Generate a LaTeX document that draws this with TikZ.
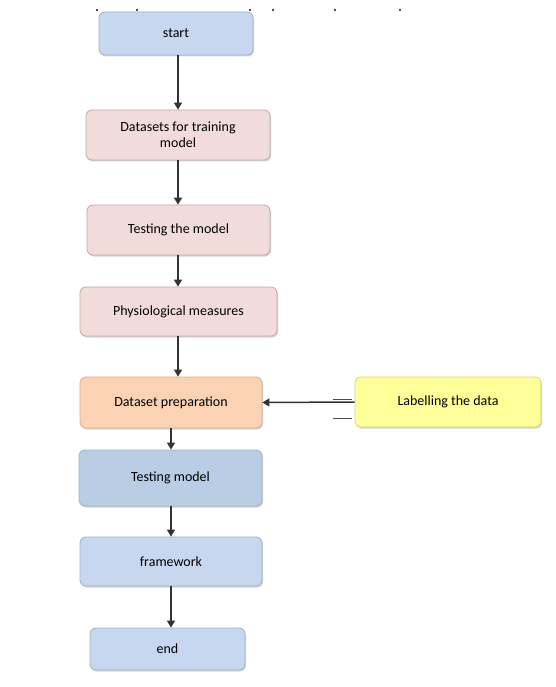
\documentclass[tikz,border=0pt]{standalone}
\usepackage{fontspec}
\setmainfont{Carlito}
\usetikzlibrary{arrows.meta,shadows}
\definecolor{cblue}{HTML}{C6D7EF}
\definecolor{cpink}{HTML}{F2DCDB}
\definecolor{cpeach}{HTML}{FBD3B4}
\definecolor{cyellow}{HTML}{FFFF99}
\definecolor{cblue2}{HTML}{B9CDE5}
\definecolor{bblue}{HTML}{9DB2CF}
\definecolor{bpink}{HTML}{C9A5A5}
\definecolor{bpeach}{HTML}{D8AE8C}
\definecolor{byellow}{HTML}{D6D67A}
\tikzset{
  box/.style={draw, line width=0.8pt, rounded corners=6pt, align=center,
    font=\fontsize{14}{16}\selectfont, inner sep=0pt,
    drop shadow={shadow xshift=1pt, shadow yshift=-1.5pt, opacity=0.35}},
  arr/.style={draw=black!80, line width=1.5pt, -{Triangle[length=7pt,width=8pt]}},
  tick/.style={draw=black!70, line width=0.6pt}
}
\begin{document}
\begin{tikzpicture}[x=1pt,y=-1pt]
\useasboundingbox (0,0) rectangle (555,687);
\node[box, fill=cblue, draw=bblue, minimum width=154pt, minimum height=43pt] (start) at (176,33.5) {start};
\node[box, fill=cpink, draw=bpink, minimum width=184pt, minimum height=50pt] (ds) at (178,135) {Datasets for training\\model};
\node[box, fill=cpink, draw=bpink, minimum width=183pt, minimum height=50pt] (tm) at (178.5,230) {Testing the model};
\node[box, fill=cpink, draw=bpink, minimum width=197pt, minimum height=49pt] (pm) at (178.5,311.5) {Physiological measures};
\node[box, fill=cpeach, draw=bpeach, minimum width=182pt, minimum height=51pt] (dp) at (171,402.5) {Dataset preparation};
\node[box, fill=cyellow, draw=byellow, minimum width=186pt, minimum height=50pt] (lab) at (448,402) {Labelling the data};
\node[box, fill=cblue2, draw=bblue, minimum width=183pt, minimum height=56pt] (tmod) at (170.5,478) {Testing model};
\node[box, fill=cblue, draw=bblue, minimum width=182pt, minimum height=49pt] (fw) at (171,561.5) {framework};
\node[box, fill=cblue, draw=bblue, minimum width=155pt, minimum height=42pt] (end) at (167.5,649) {end};

\draw[arr] (start.south -| 178,0) -- (ds.north -| 178,0);
\draw[arr] (ds.south -| 178,0) -- (tm.north -| 178,0);
\draw[arr] (tm.south -| 178,0) -- (pm.north -| 178,0);
\draw[arr] (pm.south -| 178,0) -- (dp.north -| 178,0);
\draw[arr] (dp.south -| 171,0) -- (tmod.north -| 171,0);
\draw[arr] (tmod.south -| 171,0) -- (fw.north -| 171,0);
\draw[arr] (fw.south -| 171,0) -- (end.north -| 171,0);
\draw[arr] (lab.west) -- (dp.east);

\draw[tick] (333,399.5) -- (352,399.5);
\draw[tick] (333,418.5) -- (352,418.5);
\foreach \xx in {97,137,250,273,335,400}
  \fill[black!70] (\xx-1,9.5) rectangle (\xx+1,11);
\end{tikzpicture}
\end{document}
